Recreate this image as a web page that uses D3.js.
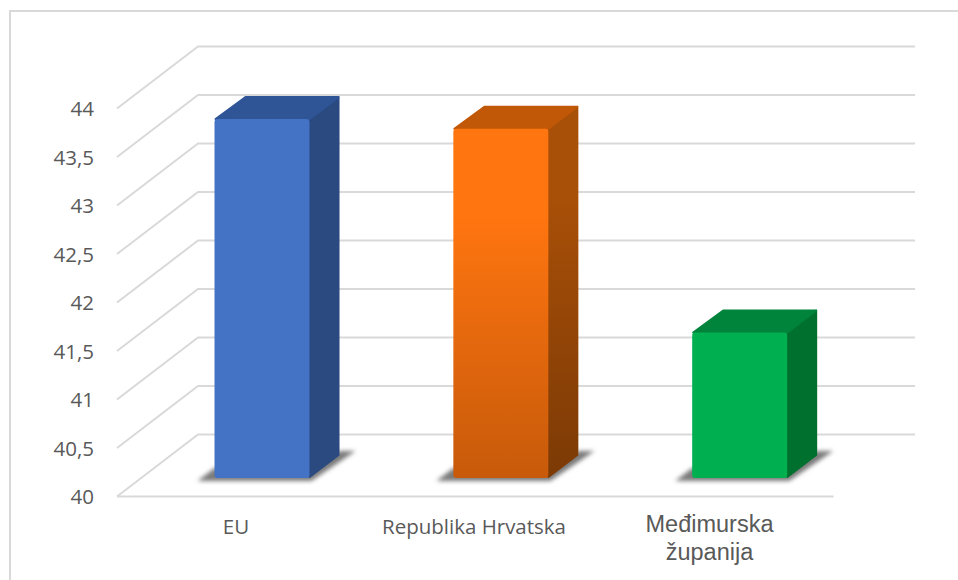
<!DOCTYPE html>
<html><head><meta charset="utf-8">
<script src="https://cdn.jsdelivr.net/npm/d3@7"></script>
<style>html,body{margin:0;padding:0;background:#fff}svg{display:block}</style>
</head><body><svg id="c" width="958" height="580"></svg>
<script>
const categories = ["EU","Republika Hrvatska","Međimurska županija"];
const values = [43.7,43.6,41.5];
const yTicks = [40,40.5,41,41.5,42,42.5,43,43.5,44];
const faceColors = ["#4472c4","#ff7510","#00b050"];
const topColors = ["#2f5597","#c05808","#00843c"];
const sideColors = ["#2a4a80","#a24e08","#00702f"];

const svg = d3.select("#c");
const defs = svg.append("defs");
const blur = defs.append("filter").attr("id","blur").attr("x","-20%").attr("y","-50%").attr("width","140%").attr("height","200%");
blur.append("feGaussianBlur").attr("stdDeviation",2);
const grad = (id,a,b)=>{const g=defs.append("linearGradient").attr("id",id).attr("x1",0).attr("x2",0).attr("y1",0).attr("y2",1);
  g.append("stop").attr("offset","25%").attr("stop-color",a);g.append("stop").attr("offset","100%").attr("stop-color",b);};
grad("oface","#ff7510","#c75a0a");
grad("oside","#a84f08","#7c3a05");

svg.append("rect").attr("x",10).attr("y",11).attr("width",1000).attr("height",1000)
  .attr("fill","#fff").attr("stroke","#d9d9d9").attr("stroke-width",2);

const y = d3.scaleLinear().domain([40,44]).range([496.5,108.5]);
const x = d3.scaleBand().domain(categories).range([117,833.5]);
const depthX = 81, depthY = 62;
const backRight = 915;

const grid = svg.append("g").attr("fill","none").attr("stroke","#d9d9d9").attr("stroke-width",2);
yTicks.forEach(t=>{
  const yy=y(t);
  grid.append("polyline").attr("points",[[117,yy],[117+depthX,yy-depthY],[backRight,yy-depthY]].map(p=>p.join(",")).join(" "));
});
grid.append("line").attr("x1",117).attr("x2",x.range()[1]).attr("y1",y(40)).attr("y2",y(40));

const tickFont="'Open Sans',sans-serif";
svg.append("g").selectAll("text").data(yTicks).join("text")
  .attr("x",94).attr("y",d=>y(d)+7.5).attr("text-anchor","end")
  .attr("font-family",tickFont).attr("font-size",20.5).attr("fill","#595959")
  .text(d=>String(d).replace(".",","));

const barW=95, dx=30, dy=23, zOff=18.5;
const bars = svg.append("g");
categories.forEach((c,i)=>{
  const cx=x(c)+x.bandwidth()/2+25.6;
  const l=cx-barW/2, r=cx+barW/2, b=y(40)-zOff, t=y(values[i])-zOff;
  const g=bars.append("g");
  g.append("polygon").attr("filter","url(#blur)").attr("fill","#7a7a7a")
    .attr("points",[[l-17,b+3],[l,b-10],[r,b-10],[r+dx,b-dy-4],[r+dx+16,b-dy-4],[r+2,b+3]].join(" "));
  g.append("polygon").attr("fill",i===1?"url(#oside)":sideColors[i]).attr("stroke",i===1?"url(#oside)":sideColors[i]).attr("stroke-width",2).attr("stroke-linejoin","round")
    .attr("points",[[r,t],[r+dx-1,t-dy+1],[r+dx-1,b-dy],[r,b-1]].join(" "));
  g.append("polygon").attr("fill",topColors[i]).attr("stroke",topColors[i]).attr("stroke-width",2).attr("stroke-linejoin","round")
    .attr("points",[[l+1,t],[l+dx+1,t-dy+1],[r+dx-1,t-dy+1],[r,t]].join(" "));
  g.append("rect").attr("x",l).attr("y",t).attr("width",barW).attr("height",b-t).attr("rx",3)
    .attr("fill",i===1?"url(#oface)":faceColors[i]);
});

const labels=svg.append("g").attr("text-anchor","middle").attr("fill","#595959");
labels.append("text").attr("x",236).attr("y",534).attr("font-family",tickFont).attr("font-size",20.5).text(categories[0]);
labels.append("text").attr("x",474).attr("y",534).attr("font-family",tickFont).attr("font-size",20.5).text(categories[1]);
const parts=categories[2].split(" ");
const t3=labels.append("text").attr("font-family","'Liberation Sans',sans-serif").attr("font-size",23.5);
t3.append("tspan").attr("x",709.5).attr("y",532).text(parts[0]);
t3.append("tspan").attr("x",709.5).attr("y",560).text(parts[1]);
</script></body></html>
